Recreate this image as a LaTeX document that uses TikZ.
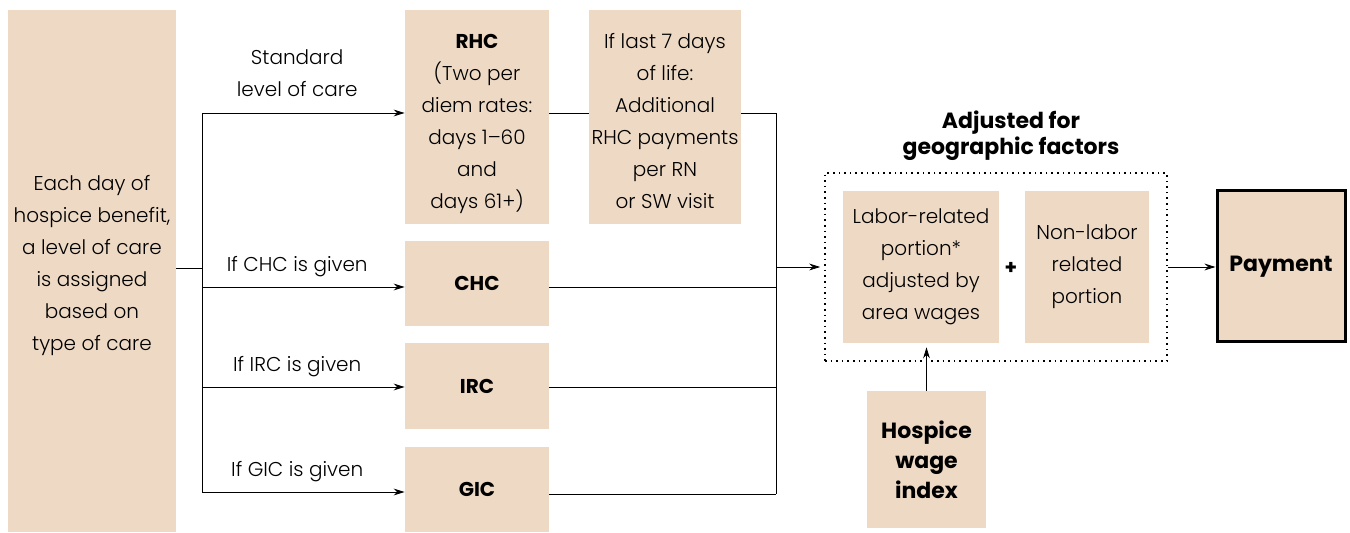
\documentclass[tikz,border=0pt]{standalone}
\usepackage{fontspec}
\setmainfont{Poppins}[UprightFont=* Light,BoldFont=* Bold]
\usetikzlibrary{arrows.meta}
\definecolor{tan}{RGB}{237,217,196}

\begin{document}
\begin{tikzpicture}[x=0.5pt,y=-0.5pt,>={Stealth[length=5.5pt,width=3.4pt]},
	font=\fontsize{10}{16}\selectfont,
	box/.style={fill=tan,inner sep=0pt,align=center},
	lbl/.style={above,inner sep=5pt,align=center}]
			\useasboundingbox (0,0) rectangle (1350,533);

			\node[box,minimum width=84pt,minimum height=261pt] (day) at (92,271)
				{Each day of\\hospice benefit,\\a level of care\\is assigned\\based on\\type of care\rule[-8.5pt]{0pt}{8.5pt}};

			\node[box,minimum width=72pt,minimum height=107pt] (rhc) at (477,117)
				{\rule{0pt}{14.5pt}\textbf{RHC}\\(Two per\\diem rates:\\days 1--60\\and\\days 61+)};
			\node[box,minimum width=72pt,minimum height=42.5pt] (chc) at (477,283.5) {\textbf{CHC}};
			\node[box,minimum width=72pt,minimum height=43pt] (irc) at (477,386) {\textbf{IRC}};
			\node[box,minimum width=72pt,minimum height=42.5pt] (gic) at (477,489.5) {\textbf{GIC}};

			\node[box,minimum width=76pt,minimum height=107pt] (last) at (665,117)
				{\rule{0pt}{11.5pt}If last 7 days\\of life:\\Additional\\RHC payments\\per RN\\or SW visit};

			\node[draw,dotted,thick,inner sep=0pt,minimum width=171pt,minimum height=94pt] (geo) at (996,267) {};
			\node[align=center,font=\fontsize{11}{13}\selectfont\bfseries] (title) at (1011,136)
				{Adjusted for\\geographic factors};
			\node[box,minimum width=78pt,minimum height=76pt] (labor) at (921,267)
				{Labor-related\\portion*\\adjusted by\\area wages};
			\node[box,minimum width=62pt,minimum height=76pt] (nonlabor) at (1087,267)
				{Non-labor\\related\\portion};
			\node[font=\bfseries] (plus) at (1011,268) {+};

			\node[box,draw,line width=1.5pt,minimum width=64pt,minimum height=75.5pt,font=\fontsize{11}{13}\selectfont\bfseries] (pay) at (1281,266.5) {Payment};

			\node[box,minimum width=59.5pt,minimum height=68.5pt,font=\fontsize{11}{15}\selectfont\bfseries] (wage) at (926.5,459.5)
				{Hospice\\wage\\index};

			% branching on the left
			\coordinate (split) at (202,268);
			\coordinate (stop) at (202,113);
			\coordinate (sbot) at (202,492);
			\draw[thin] (day.east |- split) -- (split);
			\draw[thin] (stop) -- (sbot);
			\draw[thin,->] (stop) -- (stop -| rhc.west) node[pos=0.47,above,align=center,inner sep=8pt] {Standard\\level of care};
			\draw[thin,->] (split |- 0,287) -- (rhc.west |- 0,287) node[pos=0.47,lbl] {If CHC is given};
			\draw[thin,->] (split |- 0,387) -- (rhc.west |- 0,387) node[pos=0.47,lbl] {If IRC is given};
			\draw[thin,->] (sbot) -- (sbot -| gic.west) node[pos=0.47,lbl] {If GIC is given};

			% joining on the right
			\coordinate (mtop) at (776,113);
			\coordinate (mmid) at (776,267);
			\coordinate (mbot) at (776,494);
			\draw[thin] (rhc.east |- mtop) -- (last.west |- mtop);
			\draw[thin] (last.east |- mtop) -- (mtop) -- (mbot);
			\draw[thin] (chc.east |- 0,287) -- (mmid |- 0,287);
			\draw[thin] (irc.east |- 0,387) -- (mmid |- 0,387);
			\draw[thin] (gic.east |- mbot) -- (mbot);
			\draw[thin,->] (mmid) -- ([xshift=-2pt]mmid -| geo.west);

			\draw[thin,->] (geo.east) -- (geo.east -| pay.west);
			\draw[thin,->] (wage.north) -- ([yshift=-2pt]wage.north |- labor.south);
		\end{tikzpicture}
\end{document}
